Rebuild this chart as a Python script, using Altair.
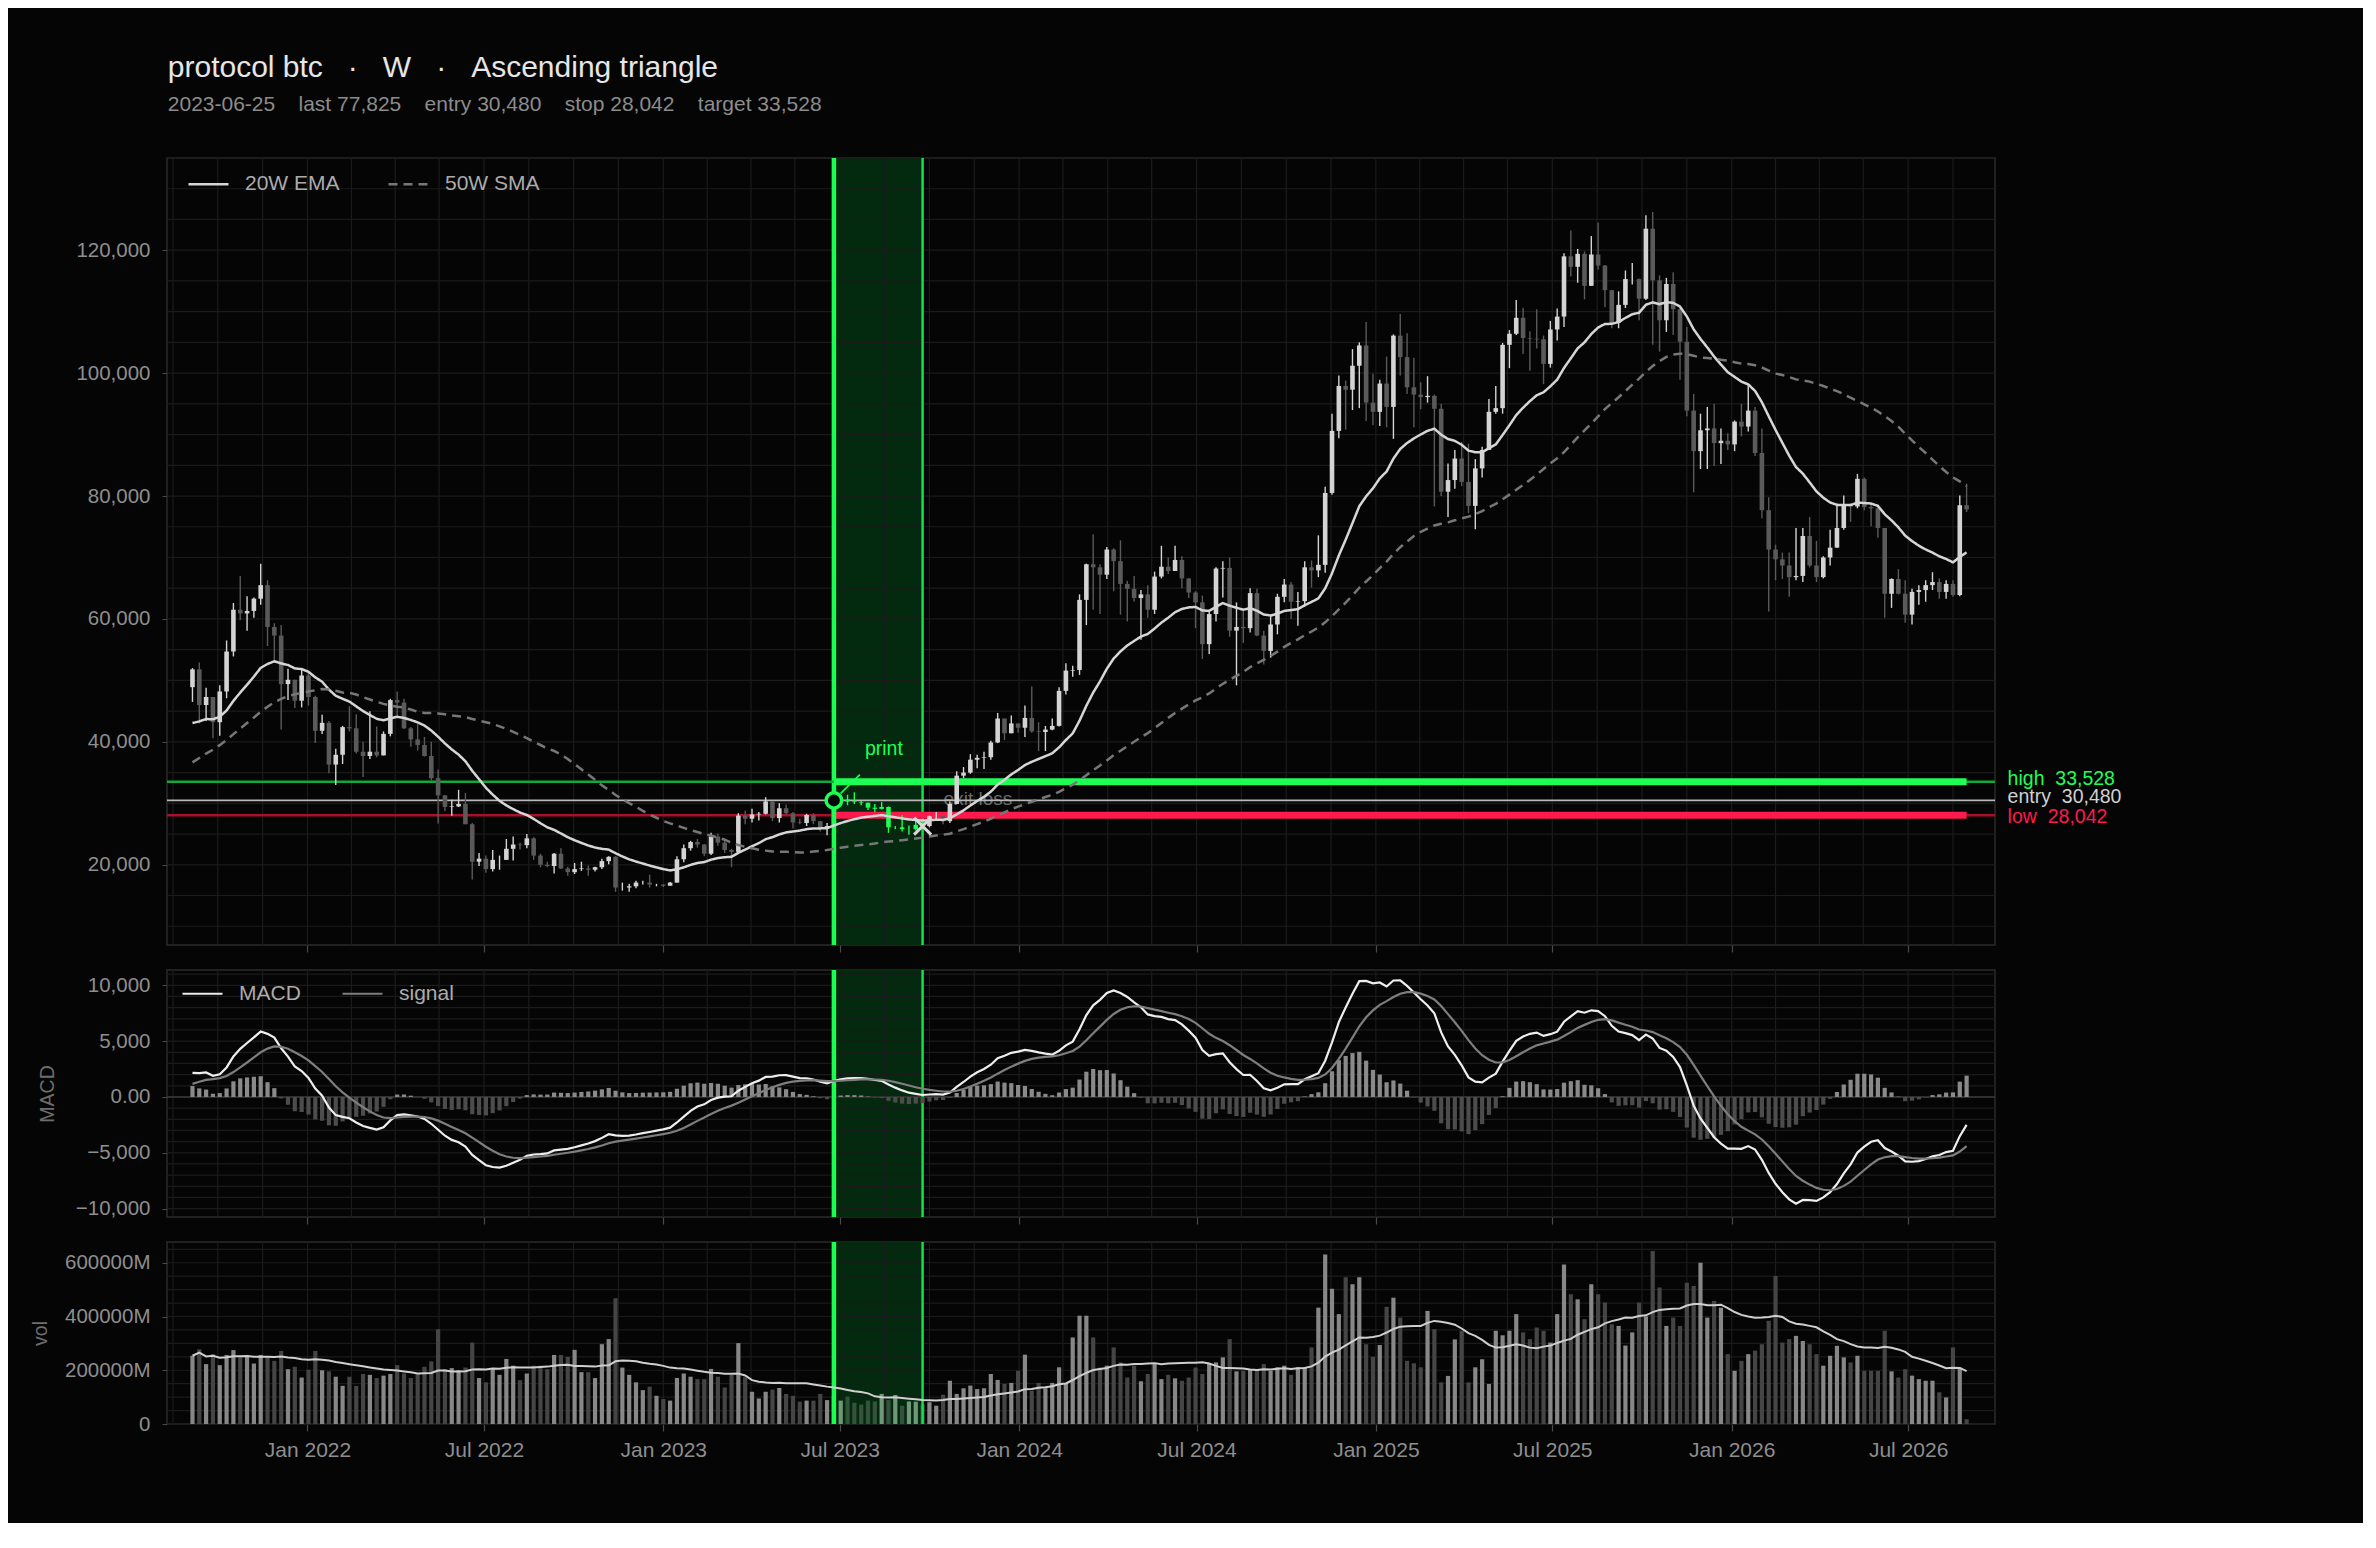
import altair as alt
import numpy as np
import pandas as pd

FONT = "Liberation Sans, Arial, Helvetica, sans-serif"
BG = "#050505"
GRID = "#1b1b1b"
NB = "\u00a0"
GREEN = "#1dff55"
RED = "#ff1a4d"

# ---------------- data ----------------
start_week = "2021-09-05"   # week-ending date of the first candle
first_open_k = 48.9

close_k = [
    51.8, 46.0, 47.3, 43.2, 48.2, 54.7, 61.5, 60.9, 61.3, 63.3,
    65.5, 58.7, 57.3, 49.4, 50.1, 46.7, 50.8, 47.3, 41.8, 43.1,
    36.3, 37.9, 42.4, 42.2, 38.4, 37.7, 38.4, 37.8, 41.3, 46.8,
    46.4, 42.2, 40.4, 39.5, 37.7, 34.1, 31.3, 29.4, 29.5, 29.9,
    26.6, 20.5, 21.0, 19.3, 20.8, 20.8, 22.6, 23.3, 23.2, 24.3,
    21.5, 20.0, 19.8, 21.8, 19.4, 18.8, 19.3, 19.4, 19.2, 19.6,
    20.6, 21.3, 16.3, 16.3, 16.5, 17.1, 17.1, 16.8, 16.8, 16.6,
    17.1, 20.9, 22.7, 23.7, 23.3, 21.8, 24.6, 23.6, 22.4, 22.1,
    28.0, 27.5, 28.2, 28.3, 30.3, 27.6, 29.2, 28.4, 26.9, 26.8,
    28.1, 27.1, 25.9, 26.3, 30.48, 30.6, 30.3, 30.2, 30.1, 29.3,
    29.1, 29.4, 26.1, 26.1, 25.8, 25.8, 26.5, 26.3, 27.9, 27.9,
    27.1, 29.9, 34.5, 35.0, 37.1, 37.4, 37.5, 39.9, 43.8, 41.4,
    43.0, 42.3, 43.9, 41.7, 41.6, 42.0, 42.6, 48.3, 51.6, 51.7,
    63.1, 68.9, 68.4, 67.2, 71.3, 69.4, 65.7, 64.9, 63.4, 64.0,
    61.5, 66.9, 68.5, 67.8, 69.6, 66.6, 64.3, 62.7, 55.9, 60.8,
    68.2, 68.3, 58.1, 58.7, 58.5, 64.2, 57.3, 54.8, 59.1, 63.6,
    65.6, 62.8, 62.9, 68.4, 67.9, 68.8, 80.5, 90.6, 97.9, 97.3,
    101.2, 104.5, 95.2, 93.7, 98.3, 94.5, 106.1, 102.6, 97.7, 96.5,
    96.1, 96.3, 94.2, 80.7, 82.6, 86.1, 82.3, 78.4, 84.5, 87.5,
    93.7, 94.3, 104.6, 106.4, 109.0, 105.7, 105.6, 105.5, 101.5, 107.1,
    109.2, 119.0, 117.3, 119.4, 114.2, 119.3, 117.5, 113.5, 108.2, 111.1,
    115.3, 115.3, 112.1, 123.5, 115.1, 108.6, 114.5, 110.4, 105.1, 93.9,
    87.3, 90.7, 91.0, 88.6, 89.0, 88.4, 92.1, 91.3, 93.9, 87.0,
    77.7, 71.3, 69.7, 68.7, 66.8, 67.0, 73.5, 68.7, 66.8, 70.0,
    71.6, 74.8, 78.5, 78.3, 82.8, 78.2, 78.0, 74.8, 64.1, 66.5,
    64.1, 60.7, 64.4, 64.7, 65.5, 66.0, 64.4, 65.7, 63.9, 78.5,
    77.825,
]

high_k = [
    52.0, 52.9, 48.8, 47.3, 49.2, 56.5, 62.6, 67.0, 63.7, 63.5,
    69.0, 66.3, 59.3, 59.0, 51.9, 49.5, 51.9, 51.3, 47.5, 44.4,
    43.4, 38.9, 42.6, 45.8, 44.5, 40.0, 45.0, 42.5, 41.7, 47.0,
    48.2, 47.0, 42.4, 42.9, 40.8, 40.0, 35.5, 31.3, 30.6, 32.2,
    31.7, 26.8, 21.9, 21.5, 22.4, 21.5, 24.2, 24.6, 23.6, 25.0,
    24.5, 21.8, 20.5, 21.9, 22.7, 19.7, 20.3, 20.5, 19.9, 19.7,
    21.0, 21.4, 21.4, 17.1, 16.9, 17.4, 17.4, 18.4, 16.9, 16.8,
    17.2, 21.4, 23.3, 23.9, 24.2, 23.4, 25.2, 25.1, 23.9, 22.6,
    28.4, 28.8, 29.1, 28.6, 31.0, 30.4, 30.0, 29.8, 28.6, 27.5,
    28.3, 28.4, 27.0, 26.8, 31.4, 31.4, 31.4, 31.8, 30.4, 30.0,
    29.9, 30.2, 29.5, 26.3, 28.1, 26.4, 27.4, 27.2, 28.0, 28.6,
    28.0, 30.3, 35.2, 35.9, 38.0, 37.9, 38.4, 40.2, 44.7, 43.4,
    44.3, 43.0, 45.9, 49.0, 43.2, 42.6, 43.8, 48.9, 52.8, 52.4,
    64.0, 69.0, 73.8, 68.9, 71.7, 71.5, 72.8, 66.2, 67.0, 64.7,
    65.5, 67.7, 71.9, 70.0, 71.9, 70.2, 66.4, 64.5, 63.8, 61.3,
    68.4, 69.4, 70.0, 62.7, 61.8, 65.0, 64.9, 58.1, 60.6, 64.1,
    66.5, 66.0, 64.4, 69.4, 69.5, 73.6, 81.5, 93.4, 99.6, 98.8,
    103.9, 105.0, 108.3, 99.9, 98.9, 102.7, 106.3, 109.6, 106.5, 102.5,
    98.5, 99.5, 96.5, 95.0, 85.3, 87.5, 88.8, 88.5, 86.0, 88.0,
    95.8, 97.9, 104.9, 107.0, 111.9, 110.6, 106.8, 110.4, 106.1, 108.5,
    110.5, 119.5, 123.2, 120.2, 119.8, 122.3, 124.5, 117.6, 113.5, 113.3,
    116.7, 117.9, 115.4, 125.7, 126.2, 115.9, 115.5, 116.4, 110.6, 107.5,
    96.6, 93.4, 94.5, 95.0, 91.0, 90.2, 92.3, 95.0, 98.2, 94.5,
    91.0, 79.8, 72.1, 70.8, 70.8, 74.8, 74.8, 76.6, 72.7, 70.2,
    74.5, 78.8, 80.1, 78.8, 83.6, 83.0, 78.8, 78.2, 74.8, 66.6,
    68.1, 66.3, 64.9, 65.5, 66.3, 67.6, 66.6, 66.3, 66.3, 80.1,
    82.0,
]

low_k = [
    46.5, 43.0, 43.4, 40.6, 41.0, 47.1, 53.9, 59.8, 58.1, 60.2,
    62.3, 55.6, 53.3, 42.0, 46.8, 45.5, 45.6, 45.9, 39.8, 41.3,
    34.9, 33.0, 36.4, 41.7, 38.1, 34.3, 37.2, 37.5, 37.9, 40.9,
    44.2, 42.1, 39.2, 38.6, 37.6, 33.7, 26.7, 28.7, 28.0, 29.4,
    26.6, 17.6, 19.8, 18.7, 18.9, 19.2, 20.8, 20.7, 22.5, 22.7,
    20.8, 19.6, 19.6, 18.6, 19.3, 18.2, 18.5, 19.0, 18.2, 18.9,
    19.3, 20.1, 15.6, 15.8, 15.6, 16.2, 16.8, 16.3, 16.5, 16.4,
    16.6, 17.1, 20.4, 22.3, 22.8, 21.4, 21.6, 23.1, 21.9, 19.6,
    21.9, 26.6, 26.9, 27.2, 28.2, 27.1, 26.9, 28.2, 25.9, 26.6,
    26.3, 26.6, 25.4, 24.8, 26.3, 29.6, 29.7, 29.9, 29.7, 28.9,
    28.6, 29.0, 25.2, 25.8, 25.4, 24.9, 25.6, 26.0, 26.1, 27.3,
    26.6, 26.8, 29.9, 34.1, 34.8, 35.7, 35.6, 37.1, 39.8, 40.3,
    41.7, 41.5, 40.8, 41.5, 38.5, 38.5, 41.9, 42.5, 47.7, 50.6,
    50.9, 59.0, 61.5, 60.8, 66.5, 64.5, 60.7, 59.6, 62.8, 56.6,
    60.2, 60.8, 66.6, 67.3, 68.5, 65.0, 63.4, 58.5, 53.5, 54.3,
    59.6, 63.5, 57.1, 49.2, 56.1, 57.8, 57.2, 52.6, 53.7, 57.5,
    62.7, 60.0, 58.9, 62.0, 65.1, 66.8, 67.5, 80.2, 89.4, 90.8,
    94.0, 94.3, 92.2, 91.5, 91.4, 91.2, 89.3, 99.6, 96.6, 91.2,
    94.1, 95.2, 78.3, 80.0, 76.6, 81.2, 81.6, 77.2, 74.6, 83.0,
    87.5, 93.4, 93.4, 100.8, 106.2, 103.1, 100.4, 104.0, 98.2, 100.9,
    105.3, 107.5, 115.7, 114.7, 112.0, 114.2, 116.8, 110.7, 107.3, 107.3,
    110.6, 114.4, 108.6, 111.9, 104.6, 103.5, 106.7, 106.2, 98.9, 93.0,
    80.6, 84.4, 84.4, 84.9, 85.2, 87.5, 87.3, 89.7, 90.5, 86.5,
    76.4, 61.2, 66.3, 66.5, 63.6, 66.3, 66.0, 68.4, 66.0, 66.6,
    68.7, 71.6, 74.5, 75.8, 78.0, 77.7, 75.1, 73.2, 60.2, 61.8,
    64.0, 59.4, 59.1, 62.3, 62.8, 64.7, 63.3, 63.3, 63.6, 63.7,
    77.4,
]

# weekly closes before the first drawn candle: only seed the moving averages / MACD
warmup_close_k = [
    11.1, 10.8, 10.7, 11.4, 11.5, 13.0, 13.7, 15.5, 16.0, 18.4,
    18.2, 19.1, 19.2, 23.9, 26.3, 33.0, 38.4, 35.8, 32.3, 33.1,
    39.3, 48.6, 57.5, 45.1, 51.2, 59.3, 57.5, 55.9, 58.8, 60.0,
    56.2, 49.0, 56.6, 58.2, 46.4, 34.8, 35.7, 35.8, 39.1, 35.5,
    34.7, 35.3, 34.3, 31.8, 35.4, 39.9, 43.8, 47.1, 49.3, 48.9,
]

# weekly volume, in units of 1e9 (axis shows it as ...000M)
volume_b_2021_2023 = [
    254, 278, 223, 260, 219, 257, 275, 254, 254, 225,
    257, 250, 235, 272, 204, 213, 173, 202, 272, 200,
    196, 176, 142, 176, 142, 186, 183, 171, 180, 186,
    219, 188, 171, 186, 213, 233, 353, 204, 208, 200,
    210, 303, 171, 155, 204, 183, 242, 217, 163, 188,
    217, 217, 204, 257, 257, 250, 276, 193, 193, 171,
    297, 316, 468, 210, 183, 155, 126, 139, 105, 93,
    87, 171, 188, 176, 167,
]
volume_b_2023_2024 = [
    167, 205, 176, 136, 183, 301, 174, 120, 95, 120,
    128, 134, 112, 105, 83, 87, 87, 112, 89, 105,
    87, 102, 79, 72, 87, 84, 112, 89, 108, 68,
    84, 83, 72, 81, 68, 109, 161, 112, 133, 143,
    130, 133, 186, 164, 149, 153, 198, 258, 124, 153,
    133, 153, 211, 149, 322, 403, 403,
]
volume_b_2024_2026 = [
    322, 210, 217, 285, 229, 173, 217, 159, 186, 223,
    167, 183, 170, 161, 173, 210, 186, 223, 229, 248,
    316, 196, 198, 204, 204, 223, 198, 211, 217, 183,
    211, 211, 285, 433, 631, 503, 409, 546, 520, 546,
    297, 250, 294, 436, 470, 396, 235, 226, 211, 421,
    353, 155, 179, 315, 347, 155, 211, 241, 149, 347,
    330, 347, 409, 341, 316, 359, 347, 303, 409, 594,
    483, 464, 390, 520, 483, 452, 371, 365, 292, 341,
    452, 400, 644, 508, 365, 396, 365, 526, 514, 600,
    396, 458, 433, 260, 198, 235, 260, 273, 297, 384,
    551, 303, 316, 328, 309, 297, 260, 217, 254, 291,
    248, 229, 254, 198, 198, 198, 347, 196, 173, 204,
    180, 167, 161, 161, 118, 99, 285, 210, 18,
]

symbol = "protocol btc"
timeframe = "W"
pattern = "Ascending triangle"
entry_date = "2023-06-25"
exit_date = "2023-09-24"
entry_price = 30480
stop_price = 28042
target_price = 33528

label_months = [(2022, 1), (2022, 7), (2023, 1), (2023, 7), (2024, 1),
                (2024, 7), (2025, 1), (2025, 7), (2026, 1), (2026, 7)]
grid_month_days = [(1, 1), (2, 15), (4, 1), (5, 16), (7, 1), (8, 16), (10, 1), (11, 16)]

# ---------------- derived series ----------------
n = len(close_k)
volume_b = volume_b_2021_2023 + volume_b_2023_2024 + volume_b_2024_2026
assert len(high_k) == n and len(low_k) == n and len(volume_b) == n, (n, len(high_k), len(low_k), len(volume_b))

dates = pd.date_range(start_week, periods=n, freq="7D")
close = np.array(close_k) * 1000.0
opn = np.concatenate([[first_open_k * 1000.0], close[:-1]])
high = np.maximum(np.array(high_k) * 1000.0, np.maximum(opn, close))
low = np.minimum(np.array(low_k) * 1000.0, np.minimum(opn, close))
vol = np.array(volume_b, dtype=float) * 1e9

full = pd.Series(np.concatenate([np.array(warmup_close_k) * 1000.0, close]))
ema20 = full.ewm(span=20, adjust=False).mean().to_numpy()[-n:]
sma50 = full.rolling(50, min_periods=1).mean().to_numpy()[-n:]
macd_full = full.ewm(span=12, adjust=False).mean() - full.ewm(span=26, adjust=False).mean()
sig_full = macd_full.ewm(span=9, adjust=False).mean()
macd = macd_full.to_numpy()[-n:]
sig = sig_full.to_numpy()[-n:]
hist = macd - sig
vol_ma = pd.Series(vol).rolling(20, min_periods=1).mean().to_numpy()

ds = list(dates.strftime("%Y-%m-%d"))
up = close >= opn
in_trade = (dates >= pd.Timestamp(entry_date)) & (dates <= pd.Timestamp(exit_date))
cat = np.where(in_trade, "trade", np.where(up, "up", "down"))
vcat = np.where(in_trade, np.where(up, "tup", "tdown"), np.where(up, "up", "down"))

df = pd.DataFrame({
    "date": ds, "open": opn, "high": high, "low": low, "close": close,
    "vol": vol, "vol_ma": vol_ma, "hist": hist, "cat": cat, "vcat": vcat,
    "hsign": np.where(hist >= 0, "pos", "neg"),
})
ma_df = pd.concat([
    pd.DataFrame({"date": ds, "series": "20W EMA", "value": ema20}),
    pd.DataFrame({"date": ds, "series": "50W SMA", "value": sma50}),
])
macd_df = pd.concat([
    pd.DataFrame({"date": ds, "series": "MACD", "value": macd}),
    pd.DataFrame({"date": ds, "series": "signal", "value": sig}),
])

exit_idx = ds.index(exit_date)
exit_price = close[exit_idx]
last_date = ds[-1]
last_price = close[-1]

# ---------------- layout ----------------
W = 1828
H1, H2, H3 = 787, 247, 182

d0 = dates[0] - pd.Timedelta(days=21)
d1 = dates[-1] + pd.Timedelta(days=24)


def dt(ts):
    return alt.DateTime(year=int(ts.year), month=int(ts.month), date=int(ts.day))


xs = alt.Scale(domain=[dt(d0), dt(d1)])
tick_vals = [alt.DateTime(year=y, month=m, date=1) for y, m in label_months]
grid_dates = []
for y in range(d0.year, d1.year + 1):
    for m, d in grid_month_days:
        t = pd.Timestamp(year=y, month=m, day=d)
        if d0 < t < d1:
            grid_dates.append(t.strftime("%Y-%m-%d"))
gx_df = pd.DataFrame({"date": grid_dates})

LABEL = dict(labelFont=FONT, labelFontSize=20.5, labelColor="#8e8e8e")
ax_x_plain = alt.Axis(values=tick_vals, labels=False, ticks=True, tickSize=7, tickColor="#4a4a4a",
                      tickWidth=1.2, domain=False, grid=False, title=None)
ax_x_lab = alt.Axis(values=tick_vals, format="%b %Y", labelPadding=8, ticks=True, tickSize=7,
                    tickColor="#4a4a4a", tickWidth=1.2, domain=False, grid=False, title=None,
                    labelFont=FONT, labelFontSize=21, labelColor="#8e8e8e")


def band_layers(xenc, h):
    band = alt.Chart(pd.DataFrame({"date": [entry_date], "date2": [exit_date]})).mark_rect(
        color="#032a0f").encode(x=xenc("date"), x2="date2:T", y=alt.value(0), y2=alt.value(h))
    gx = alt.Chart(gx_df).mark_rule(color=GRID, strokeWidth=1.2).encode(x=xenc("date"))
    return band, gx


def band_edges(xenc):
    e1 = alt.Chart(pd.DataFrame({"date": [entry_date]})).mark_rule(
        color="#19ff4f", strokeWidth=4.5).encode(x=xenc("date"))
    e2 = alt.Chart(pd.DataFrame({"date": [exit_date]})).mark_rule(
        color="#14e046", strokeWidth=2.5).encode(x=xenc("date"))
    return e1, e2


# ---------------- main price panel ----------------
ys1 = alt.Scale(domain=[6950, 135000], nice=False, zero=False)
ay1 = alt.Axis(values=[20000, 40000, 60000, 80000, 100000, 120000],
               labelExpr="format(datum.value, ',')", tickSize=5,
               tickColor="#4a4a4a", labelPadding=12, domain=False, grid=False, title=None, **LABEL)


def X1(f):
    return alt.X(f"{f}:T", scale=xs, axis=ax_x_plain, title=None)


def Y1(f):
    return alt.Y(f"{f}:Q", scale=ys1, axis=ay1, title=None)


band1, gx1 = band_layers(X1, H1)
gy1 = alt.Chart(pd.DataFrame({"value": list(range(10000, 135001, 5000))})).mark_rule(
    color=GRID, strokeWidth=1.2).encode(y=Y1("value"))
e1a, e1b = band_edges(X1)

thin_hi = alt.Chart(pd.DataFrame({"value": [target_price]})).mark_rule(
    color="#12a83a", strokeWidth=2.5).encode(y=Y1("value"))
thin_en = alt.Chart(pd.DataFrame({"value": [entry_price]})).mark_rule(
    color="#b8b8b8", strokeWidth=1.6).encode(y=Y1("value"))
thin_lo = alt.Chart(pd.DataFrame({"value": [stop_price]})).mark_rule(
    color="#a8102e", strokeWidth=2.5).encode(y=Y1("value"))
thick_df = pd.DataFrame({"date": [entry_date, entry_date], "date2": [last_date, last_date],
                         "value": [target_price, stop_price], "kind": ["hi", "lo"]})
thick_hi = alt.Chart(thick_df).transform_filter(alt.datum.kind == "hi").mark_rule(
    color=GREEN, strokeWidth=7).encode(x=X1("date"), x2="date2:T", y=Y1("value"))
thick_lo = alt.Chart(thick_df).transform_filter(alt.datum.kind == "lo").mark_rule(
    color=RED, strokeWidth=7).encode(x=X1("date"), x2="date2:T", y=Y1("value"))

exit_df = pd.DataFrame({"date": [exit_date], "value": [exit_price]})
exit_txt = alt.Chart(exit_df).mark_text(
    text="exit loss", align="left", baseline="middle", dx=21, dy=-27, fontSize=19,
    color="#6b6b6b", font=FONT).encode(x=X1("date"), y=Y1("value"))

candle_layers = []
for c, col in [("down", "#5a5a5a"), ("up", "#d4d4d4"), ("trade", GREEN)]:
    base = alt.Chart(df).transform_filter(alt.datum.cat == c)
    candle_layers.append(base.mark_rule(color=col, strokeWidth=1.4).encode(
        x=X1("date"), y=Y1("low"), y2="high"))
    candle_layers.append(base.mark_bar(color=col, size=4.6).encode(
        x=X1("date"), y=Y1("open"), y2="close"))

leg_main = alt.Legend(orient="none", legendX=20, legendY=4.5, direction="horizontal", title=None,
                      labelFont=FONT, labelFontSize=21, labelColor="#ababab", symbolType="stroke",
                      symbolSize=1600, symbolStrokeWidth=2.5, labelOffset=15, columnPadding=43,
                      padding=0)
ma_lines = alt.Chart(ma_df).mark_line(strokeWidth=2.5).encode(
    x=X1("date"), y=Y1("value"),
    color=alt.Color("series:N", scale=alt.Scale(domain=["20W EMA", "50W SMA"],
                                                range=["#d6d6d6", "#777777"]), legend=leg_main),
    strokeDash=alt.StrokeDash("series:N", scale=alt.Scale(domain=["20W EMA", "50W SMA"],
                                                          range=[[1, 0], [9, 6]]), legend=leg_main),
)

entry_df = pd.DataFrame({"date": [entry_date], "value": [entry_price]})
connector = alt.Chart(entry_df).mark_point(
    shape="M0.26,-0.27L1,-0.99", size=2704, filled=False, stroke=GREEN, strokeWidth=1.6,
    opacity=1).encode(x=X1("date"), y=Y1("value"))
print_txt = alt.Chart(entry_df).mark_text(
    text="print", dx=50, dy=-51, fontSize=19.5, color=GREEN, font=FONT).encode(
    x=X1("date"), y=Y1("value"))
x_mark = alt.Chart(exit_df).mark_point(
    shape="M-1,-1L1,1M-1,1L1,-1", size=289, filled=False, stroke="#d9d9d9", strokeWidth=3,
    opacity=1).encode(x=X1("date"), y=Y1("value"))
circle = alt.Chart(entry_df).mark_point(
    shape="circle", size=240, filled=True, fill=BG, stroke=GREEN, strokeWidth=3.5,
    opacity=1).encode(x=X1("date"), y=Y1("value"))

lab_df = pd.DataFrame({
    "date": [last_date] * 3,
    "value": [target_price, entry_price, stop_price],
    "label": [f"high{NB}{NB}{target_price:,}", f"entry{NB}{NB}{entry_price:,}", f"low{NB}{NB}{stop_price:,}"],
    "kind": ["hi", "en", "lo"],
})
lab_layers = []
for k, col, ddy in [("hi", GREEN, -3), ("en", "#d0d0d0", -3), ("lo", RED, 2)]:
    lab_layers.append(alt.Chart(lab_df).transform_filter(alt.datum.kind == k).mark_text(
        align="left", baseline="middle", dx=41, dy=ddy, fontSize=19.5, color=col, font=FONT).encode(
        x=X1("date"), y=Y1("value"), text="label:N"))

main = alt.layer(
    band1, gx1, gy1, e1a, e1b, exit_txt, thin_hi, thin_en, thin_lo, thick_hi, thick_lo,
    *candle_layers, ma_lines, connector, print_txt, x_mark, circle, *lab_layers,
).properties(width=W, height=H1)

# ---------------- MACD panel ----------------
ys2 = alt.Scale(domain=[-10750, 11370], nice=False, zero=False)
ay2 = alt.Axis(values=[-10000, -5000, 0, 5000, 10000],
               labelExpr="datum.value == 0 ? '0.00' : format(datum.value, ',')",
               tickSize=5, tickColor="#4a4a4a", labelPadding=12, domain=False, grid=False,
               title="MACD", titleFont=FONT, titleFontSize=19.5, titleFontWeight="normal",
               titleColor="#6e6e6e", titlePadding=18, **LABEL)


def X2(f):
    return alt.X(f"{f}:T", scale=xs, axis=ax_x_plain, title=None)


def Y2(f):
    return alt.Y(f"{f}:Q", scale=ys2, axis=ay2, title=None)


band2, gx2 = band_layers(X2, H2)
gy2 = alt.Chart(pd.DataFrame({"value": list(range(-10000, 11001, 1000))})).mark_rule(
    color=GRID, strokeWidth=1.2).encode(y=Y2("value"))
zero2 = alt.Chart(pd.DataFrame({"value": [0]})).mark_rule(
    color="#3a3a3a", strokeWidth=1.5).encode(y=Y2("value"))
e2a, e2b = band_edges(X2)
hist_layers = []
for s, col in [("pos", "#8a8a8a"), ("neg", "#4c4c4c")]:
    hist_layers.append(alt.Chart(df).transform_filter(alt.datum.hsign == s).mark_bar(
        color=col, size=4.2).encode(x=X2("date"), y=Y2("hist"), y2=alt.datum(0)))
leg_macd = alt.Legend(orient="none", legendX=14, legendY=2, direction="horizontal", title=None,
                      labelFont=FONT, labelFontSize=21, labelColor="#ababab", symbolType="stroke",
                      symbolSize=1600, symbolStrokeWidth=2.2, labelOffset=15, columnPadding=37,
                      padding=0)
macd_lines = alt.Chart(macd_df).mark_line(strokeWidth=2.2).encode(
    x=X2("date"), y=Y2("value"),
    color=alt.Color("series:N", scale=alt.Scale(domain=["MACD", "signal"],
                                                range=["#eeeeee", "#7e7e7e"]), legend=leg_macd),
)
macd_chart = alt.layer(
    band2, gx2, gy2, zero2, e2a, e2b, *hist_layers, macd_lines,
).properties(width=W, height=H2)

# ---------------- volume panel ----------------
ys3 = alt.Scale(domain=[0, 6.773e11], nice=False, zero=False)
ay3 = alt.Axis(values=[0, 2e11, 4e11, 6e11],
               labelExpr="datum.value == 0 ? '0' : format(datum.value / 1e6, 'd') + 'M'",
               tickSize=5, tickColor="#4a4a4a", labelPadding=12, domain=False, grid=False,
               title="vol", titleFont=FONT, titleFontSize=19.5, titleFontWeight="normal",
               titleColor="#6e6e6e", titlePadding=14, **LABEL)


def X3(f):
    return alt.X(f"{f}:T", scale=xs, axis=ax_x_lab, title=None)


def Y3(f):
    return alt.Y(f"{f}:Q", scale=ys3, axis=ay3, title=None)


band3, gx3 = band_layers(X3, H3)
gy3 = alt.Chart(pd.DataFrame({"value": [i * 5e10 for i in range(0, 14)]})).mark_rule(
    color=GRID, strokeWidth=1.2).encode(y=Y3("value"))
e3a, e3b = band_edges(X3)
vol_layers = []
for c, col in [("down", "#454545"), ("up", "#878787"), ("tdown", "#33533b"), ("tup", "#6e9877")]:
    vol_layers.append(alt.Chart(df).transform_filter(alt.datum.vcat == c).mark_bar(
        color=col, size=4.2).encode(x=X3("date"), y=Y3("vol"), y2=alt.datum(0)))
vol_line = alt.Chart(df).mark_line(color="#cfcfcf", strokeWidth=2).encode(
    x=X3("date"), y=Y3("vol_ma"))
vol_chart = alt.layer(
    band3, gx3, gy3, *vol_layers, e3a, e3b, vol_line,
).properties(width=W, height=H3)

# ---------------- assemble ----------------
title_text = f"{symbol}{NB*3}·{NB*3}{timeframe}{NB*3}·{NB*3}{pattern}"
sub_text = (f"{entry_date}{NB*4}last {last_price:,.0f}{NB*4}entry {entry_price:,}"
            f"{NB*4}stop {stop_price:,}{NB*4}target {target_price:,}")

chart = alt.vconcat(main, macd_chart, vol_chart, spacing=13).resolve_scale(
    color="independent", strokeDash="independent"
).resolve_legend(
    color="independent", strokeDash="independent"
).properties(
    title=alt.TitleParams(
        text=title_text, subtitle=sub_text, anchor="start", dx=138, offset=40,
        font=FONT, fontSize=30, fontWeight="normal", color="#e6e6e6",
        subtitleFont=FONT, subtitleFontSize=21, subtitleColor="#8c8c8c", subtitlePadding=11,
    ),
    padding={"left": 21, "top": 45, "right": 240, "bottom": 62},
    background=BG,
).configure(font=FONT).configure_view(stroke="#2b2b2b", strokeWidth=1.5)

chart.save("out.html", embed_options={"renderer": "svg", "actions": False})
